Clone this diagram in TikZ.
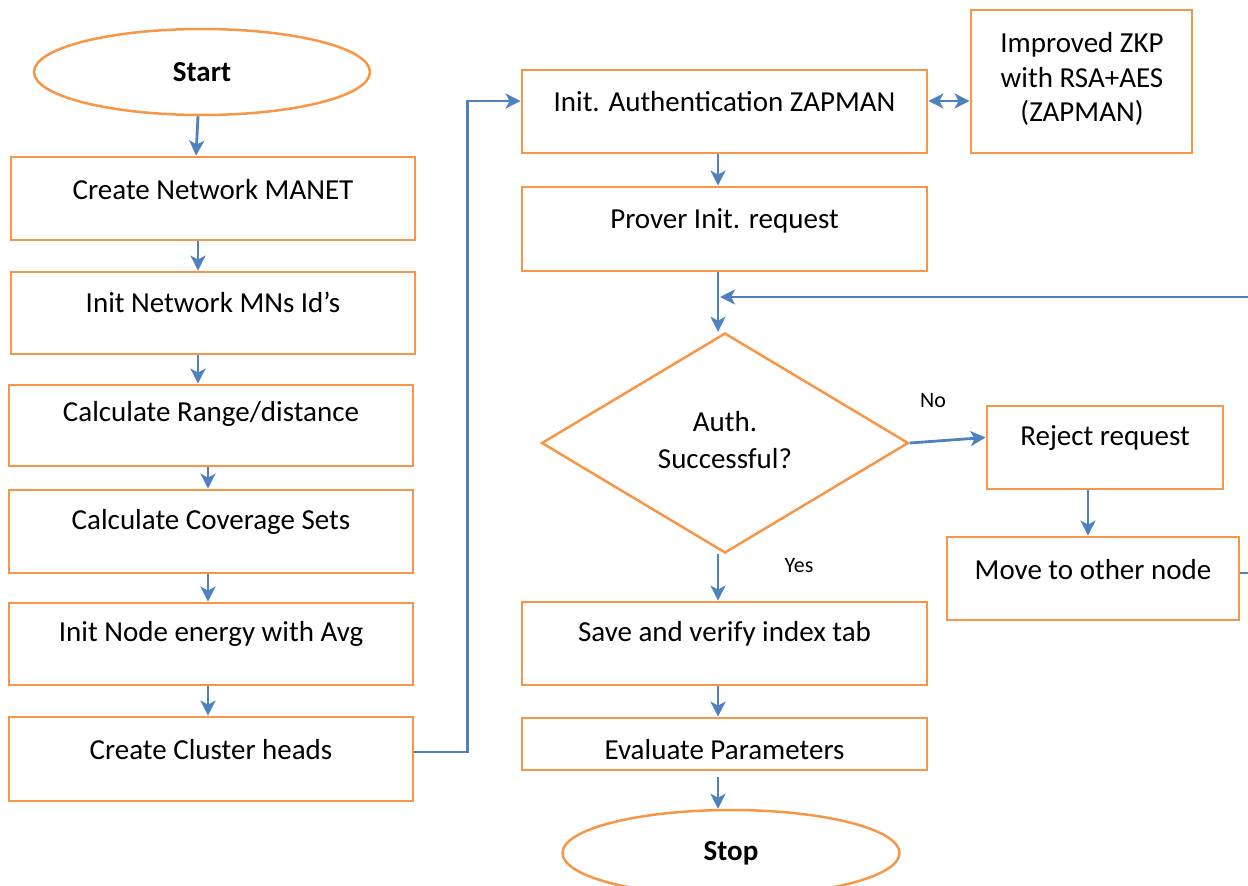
\documentclass[tikz,border=0pt]{standalone}
\usepackage{fontspec}
\setmainfont{Carlito}
\usetikzlibrary{shapes.geometric,arrows.meta,calc}
\definecolor{orng}{HTML}{F79646}
\definecolor{blu}{HTML}{4F81BD}
\begin{document}
\begin{tikzpicture}[x=1pt,y=-1pt,
 box/.style={draw=orng,line width=2.8pt,rectangle,inner sep=0pt,minimum width=404pt},
 oval/.style={draw=orng,line width=2.5pt,ellipse,inner sep=0pt,minimum width=336pt,minimum height=86pt,font=\bfseries\fontsize{29}{34}\selectfont},
 txt/.style={font=\fontsize{29}{34}\selectfont,inner sep=0pt},
 sml/.style={font=\fontsize{22}{26}\selectfont,inner sep=0pt},
 arr/.style={draw=blu,line width=2.8pt,-{Stealth[length=15pt,width=15pt,inset=4pt]}},
 ln/.style={draw=blu,line width=2.8pt}]
\useasboundingbox (0,0) rectangle (1248,886);

% left column
\node[oval] (start) at (202,72) {Start};
\node[box,minimum height=83pt] (b1) at (213,198.5) {};
\node[box,minimum height=82pt] (b2) at (213,313) {};
\node[box,minimum height=81pt] (b3) at (211,425.5) {};
\node[box,minimum height=83pt] (b4) at (211,531.5) {};
\node[box,minimum height=82pt] (b5) at (211,644) {};
\node[box,minimum height=84pt] (b6) at (211,759) {};
\node[txt] (t1) at ($(b1.north)+(0,34)$) {Create Network MANET};
\node[txt] (t2) at ($(b2.north)+(0,32)$) {Init Network MNs Id’s};
\node[txt] (t3) at ($(b3.north)+(0,30)$) {Calculate Range/distance};
\node[txt] (t4) at ($(b4.north)+(0,33)$) {Calculate Coverage Sets};
\node[txt] (t5) at ($(b5.north)+(0,32)$) {Init Node energy with Avg};
\node[txt] (t6) at ($(b6.north)+(0,34)$) {Create Cluster heads};

% right column
\node[box,minimum width=405pt,minimum height=83pt] (r1) at (724.5,111.5) {};
\node[box,minimum width=221pt,minimum height=143pt] (zkp) at (1081.5,81.5) {};
\node[box,minimum width=405pt,minimum height=84pt] (r2) at (724.5,229) {};
\node[draw=orng,line width=2.5pt,diamond,inner sep=0pt,minimum width=367pt,minimum height=220pt,aspect=1.668] (dia) at (725,443) {};
\node[box,minimum width=236pt,minimum height=83pt] (rej) at (1105,447.5) {};
\node[box,minimum width=292pt,minimum height=83pt] (mov) at (1093,578.5) {};
\node[box,minimum width=405pt,minimum height=83pt] (save) at (724.5,643.5) {};
\node[box,minimum width=405pt,minimum height=52pt] (eval) at (724.5,744) {};
\node[oval,minimum width=337pt] (stop) at (731,853) {Stop};

\node[txt] (tr1) at ($(r1.north)+(0,33)$) {Init. Authentication ZAPMAN};
\node[txt,align=center,font=\fontsize{29}{34.5}\selectfont] (tz) at (1082,79) {Improved ZKP\\with RSA+AES\\(ZAPMAN)};
\node[txt] (tr2) at ($(r2.north)+(0,35)$) {Prover Init. request};
\node[txt,align=center,font=\fontsize{29}{37}\selectfont] (td) at (725,440) {Auth.\\Successful?};
\node[txt] (trj) at ($(rej.north)+(0,33)$) {Reject request};
\node[txt] (tmv) at ($(mov.north)+(0,34)$) {Move to other node};
\node[txt] (tsv) at ($(save.north)+(0,33)$) {Save and verify index tab};
\node[txt] (tev) at ($(eval.north)+(0,33)$) {Evaluate Parameters};
\node[sml] (no) at (933,401) {No};
\node[sml] (yes) at (799,566) {Yes};

% connectors
\draw[arr] ($(start.south)+(-4,0)$) -- ($(b1.north)+(-17,0)$);
\draw[arr] ($(b1.south)+(-15,0)$) -- ($(b2.north)+(-15,0)$);
\draw[arr] ($(b2.south)+(-15,0)$) -- ($(b3.north)+(-13,0)$);
\draw[arr] ($(b3.south)+(-3,0)$) -- ($(b4.north)+(-3,0)$);
\draw[arr] ($(b4.south)+(-3,0)$) -- ($(b5.north)+(-3,0)$);
\draw[arr] ($(b5.south)+(-3,0)$) -- ($(b6.north)+(-3,0)$);
\draw[arr] ($(b6.east)+(0,-7)$) -- ++(53,0) |- ($(r1.west)+(0,-10.5)$);
\draw[arr,{Stealth[length=15pt,width=15pt,inset=4pt]}-{Stealth[length=15pt,width=15pt,inset=4pt]}] ($(r1.east)+(0,-10.5)$) -- ($(zkp.west)+(0,19.5)$);
\draw[arr] ($(r1.south)+(-6.5,0)$) -- ($(r2.north)+(-6.5,0)$);
\draw[arr] ($(r2.south)+(-6.5,0)$) coordinate (q) -- (q |- dia.north);
\coordinate (fbR) at (1248,297);
\coordinate (fbL) at (720,297);
\draw[arr] (fbR) -- (fbL);
\draw[arr] (dia.east) -- ($(rej.west)+(0,-10)$);
\draw[arr] ($(rej.south)+(-17,0)$) -- ($(mov.north)+(-5,0)$);
\coordinate (movR) at (1248,573);
\draw[ln] ($(mov.east)+(0,-5.5)$) -- (movR);
\draw[arr] ($(dia.south)+(-7,0)$) -- ($(save.north)+(-6.5,0)$);
\draw[arr] ($(save.south)+(-6.5,0)$) -- ($(eval.north)+(-6.5,0)$);
\draw[arr] ($(eval.south)+(-6.5,6)$) -- ($(stop.north)+(-13,0)$);
\end{tikzpicture}
\end{document}
